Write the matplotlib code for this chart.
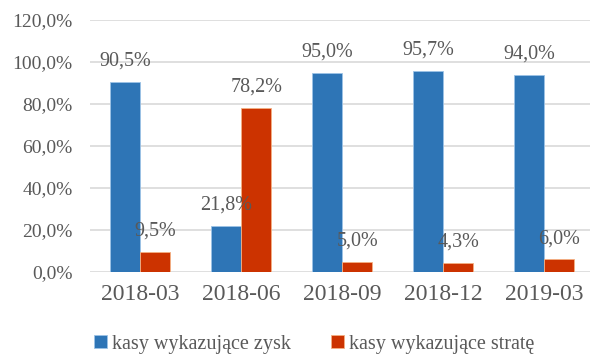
import numpy as np
import matplotlib.pyplot as plt
from matplotlib.ticker import FuncFormatter

kwartaly = ["2018-03", "2018-06", "2018-09", "2018-12", "2019-03"]
zysk = [90.5, 21.8, 95.0, 95.7, 94.0]
strata = [9.5, 78.2, 5.0, 4.3, 6.0]
etykiety = ["kasy wykazujące zysk", "kasy wykazujące stratę"]

plt.rcParams["font.family"] = ["Liberation Serif", "DejaVu Serif"]
szary = "#595959"

fig = plt.figure(figsize=(5.9, 3.55), dpi=100)
ax = fig.add_axes([89.5 / 590, 1 - 272 / 355, 500.5 / 590, 252 / 355])

x = np.arange(len(kwartaly))
w = 0.3
b1 = ax.bar(x - w / 2, zysk, w, color="#2E75B6", edgecolor="#9DC3E6", linewidth=0.6,
            label=etykiety[0], zorder=3)
b2 = ax.bar(x + w / 2, strata, w, color="#CC3300", edgecolor="#F4B183", linewidth=0.6,
            label=etykiety[1], zorder=3)

# podpisy wartości nad słupkami
for bars, vals in ((b1, zysk), (b2, strata)):
    for rect, v in zip(bars, vals):
        ax.annotate(f"{v:.1f}%".replace(".", ","),
                    (rect.get_x() + rect.get_width() / 2, v),
                    xytext=(0, 15), textcoords="offset points",
                    ha="center", va="center", fontsize=14.5, color=szary, zorder=4)

ax.set_xlim(-0.5, 4.455)
ax.set_ylim(0, 120)
ax.set_yticks(np.arange(0, 121, 20))
ax.yaxis.set_major_formatter(FuncFormatter(lambda v, p: f"{v:.1f}%".replace(".", ",")))
ax.set_xticks(x)
ax.set_xticklabels(kwartaly)
ax.tick_params(axis="y", length=0, labelsize=14, labelcolor=szary, pad=12)
ax.tick_params(axis="x", length=0, labelsize=17, labelcolor=szary, pad=9)
ax.grid(axis="y", color="#d9d9d9", linewidth=1.2, zorder=0)
for s in ax.spines.values():
    s.set_visible(False)

fig.legend(loc="center", bbox_to_anchor=(314 / 590, 1 - 344 / 355), ncol=2,
           frameon=False, fontsize=14.5, labelcolor=szary, handlelength=0.65,
           handleheight=0.65, handletextpad=0.25, columnspacing=2.0)

fig.savefig("out.png", dpi=100)
